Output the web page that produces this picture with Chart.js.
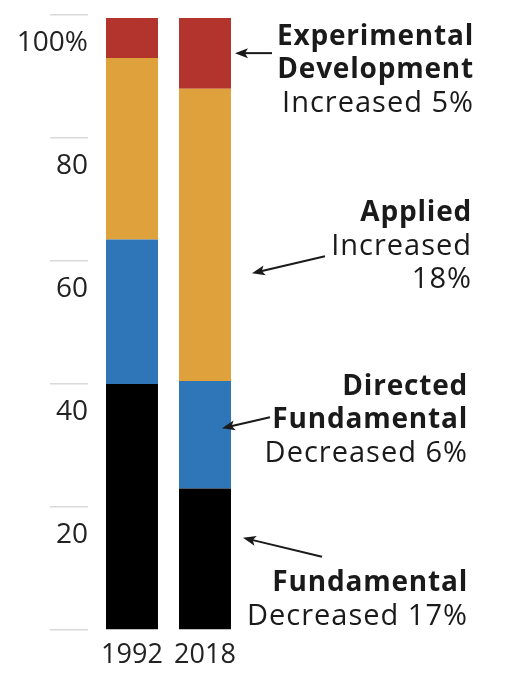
<!DOCTYPE html>
<html>
<head>
<meta charset="utf-8">
<script src="https://cdn.jsdelivr.net/npm/chart.js@4/dist/chart.umd.min.js"></script>
<style>
  html, body { margin: 0; padding: 0; background: #fff; }
  #wrap { width: 521px; height: 680px; position: relative; }
</style>
</head>
<body>
<div id="wrap"><canvas id="fundingChart"></canvas></div>
<script>
// Dados: participação (%) por tipo de pesquisa
const years = ['1992', '2018'];
const fundamental = [40, 23];
const directedFundamental = [23.5, 17.5];
const applied = [29.5, 47.5];
const experimental = [6.5, 11.5];
const yTicks = [0, 20, 40, 60, 80, 100];

const FONT = '"Open Sans", sans-serif';

// Anotações à direita das barras (posição da seta em valor do eixo y)
const notes = [
  { lines: [['Experimental', true], ['Development', true], ['Increased 5%', false]],
    right: 474, top: 37, headValue: 93.8, headDx: 4, tailDx: 37, tailDy: 0 },
  { lines: [['Applied', true], ['Increased', false], ['18%', false]],
    right: 472, top: 213, headValue: 58, headDx: 21, tailDx: 73, tailDy: -17 },
  { lines: [['Directed', true], ['Fundamental', true], ['Decreased 6%', false]],
    right: 468, top: 387, headValue: 32.8, headDx: -9, tailDx: 48, tailDy: -11 },
  { lines: [['Fundamental', true], ['Decreased 17%', false]],
    right: 468, top: 583, headValue: 15, headDx: 12, tailDx: 79, tailDy: 19 }
];

const notesPlugin = {
  id: 'notes',
  afterDraw(chart) {
    const ctx = chart.ctx;
    const y = chart.scales.y;
    const bar = chart.getDatasetMeta(0).data[1];
    const barRight = bar.x + bar.width / 2;
    ctx.save();
    ctx.fillStyle = '#1a1a1a';
    ctx.strokeStyle = '#1a1a1a';
    ctx.textAlign = 'right';
    ctx.textBaseline = 'middle';
    notes.forEach(n => {
      n.lines.forEach((l, i) => {
        if (l[1]) {
          ctx.font = '700 28px ' + FONT;
          ctx.letterSpacing = '0.8px';
        } else {
          ctx.font = '400 29px ' + FONT;
          ctx.letterSpacing = '1px';
        }
        ctx.fillText(l[0], n.right, n.top + i * 33.5);
      });
      ctx.letterSpacing = '0px';
      const hx = barRight + n.headDx;
      const hy = y.getPixelForValue(n.headValue);
      const tx = hx + n.tailDx;
      const ty = hy + n.tailDy;
      const ang = Math.atan2(ty - hy, tx - hx);
      ctx.lineWidth = 2;
      ctx.beginPath();
      ctx.moveTo(tx, ty);
      ctx.lineTo(hx + Math.cos(ang) * 8, hy + Math.sin(ang) * 8);
      ctx.stroke();
      ctx.beginPath();
      ctx.moveTo(hx, hy);
      ctx.lineTo(hx + Math.cos(ang) * 13 - Math.sin(ang) * 5, hy + Math.sin(ang) * 13 + Math.cos(ang) * 5);
      ctx.lineTo(hx + Math.cos(ang) * 10, hy + Math.sin(ang) * 10);
      ctx.lineTo(hx + Math.cos(ang) * 13 + Math.sin(ang) * 5, hy + Math.sin(ang) * 13 - Math.cos(ang) * 5);
      ctx.closePath();
      ctx.fill();
    });
    ctx.restore();
  }
};

const canvas = document.getElementById('fundingChart');
new Chart(canvas, {
  type: 'bar',
  data: {
    labels: years,
    datasets: [
      { label: 'Fundamental', data: fundamental, backgroundColor: '#000000' },
      { label: 'Directed Fundamental', data: directedFundamental, backgroundColor: '#2f76b8' },
      { label: 'Applied', data: applied, backgroundColor: '#dfa13b' },
      { label: 'Experimental Development', data: experimental, backgroundColor: '#b2342c' }
    ]
  },
  options: {
    responsive: true,
    maintainAspectRatio: false,
    animation: false,
    layout: { padding: { top: 15, right: 279.5, left: 0, bottom: 0 } },
    datasets: { bar: { barPercentage: 0.712, categoryPercentage: 1, borderWidth: 0 } },
    plugins: { legend: { display: false }, tooltip: { enabled: false } },
    scales: {
      x: {
        stacked: true,
        grid: { display: false, drawTicks: false },
        border: { display: false },
        ticks: { color: '#222', font: { family: FONT, size: 27 }, padding: 9 },
        afterFit: s => { s.height = 50; }
      },
      y: {
        stacked: true,
        position: 'left',
        weight: 1,
        min: 0,
        max: 100,
        afterBuildTicks: s => { s.ticks = yTicks.map(v => ({ value: v })); },
        grid: { drawOnChartArea: false, color: '#d9d9d9', lineWidth: 1.5, tickLength: 38 },
        border: { display: false },
        ticks: {
          color: '#222',
          font: { family: FONT, size: 28 },
          padding: -38,
          labelOffset: 28,
          callback: v => v === 0 ? '' : (v === 100 ? '100%' : String(v))
        },
        afterFit: s => { s.width = 88; }
      },
      gap: {
        position: 'left',
        weight: 0,
        display: true,
        grid: { display: false },
        border: { display: false },
        ticks: { display: false },
        afterFit: s => { s.width = 7.5; }
      }
    }
  },
  plugins: [notesPlugin]
});
</script>
</body>
</html>
